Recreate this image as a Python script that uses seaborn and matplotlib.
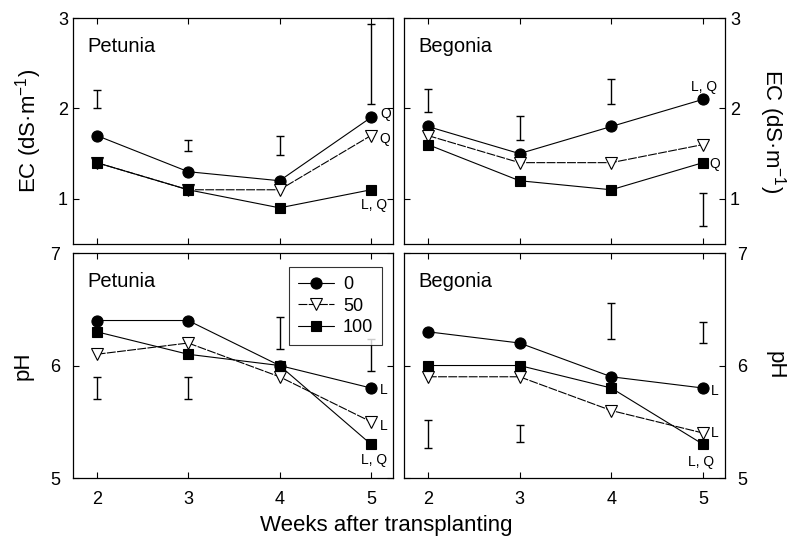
import numpy as np
import pandas as pd
import matplotlib
matplotlib.use("Agg")
import matplotlib.pyplot as plt
import seaborn as sns

sns.set_style("ticks")
plt.rcParams['font.family'] = ['Liberation Sans', 'DejaVu Sans']
plt.rcParams['mathtext.fontset'] = 'custom'
plt.rcParams['mathtext.rm'] = 'Liberation Sans'
plt.rcParams['mathtext.it'] = 'Liberation Sans:italic'
for k in ['text.color', 'axes.labelcolor', 'xtick.color', 'ytick.color', 'axes.edgecolor']:
    plt.rcParams[k] = 'black'

weeks = [2, 3, 4, 5]
rates = ['0', '50', '100']

# EC (dS/m) per rate
ec_petunia = {'0': [1.7, 1.3, 1.2, 1.9], '50': [1.4, 1.1, 1.1, 1.7], '100': [1.4, 1.1, 0.9, 1.1]}
ec_begonia = {'0': [1.8, 1.5, 1.8, 2.1], '50': [1.7, 1.4, 1.4, 1.6], '100': [1.6, 1.2, 1.1, 1.4]}
# pH per rate
ph_petunia = {'0': [6.4, 6.4, 6.0, 5.8], '50': [6.1, 6.2, 5.9, 5.5], '100': [6.3, 6.1, 6.0, 5.3]}
ph_begonia = {'0': [6.3, 6.2, 5.9, 5.8], '50': [5.9, 5.9, 5.6, 5.4], '100': [6.0, 6.0, 5.8, 5.3]}

# LSD bars: low / high ends
ec_petunia_bar_lo = [2.01, 1.53, 1.48, 2.05]
ec_petunia_bar_hi = [2.2, 1.65, 1.7, 2.93]
ec_begonia_bar_lo = [1.96, 1.65, 2.05, 0.7]
ec_begonia_bar_hi = [2.22, 1.92, 2.33, 1.06]
ph_petunia_bar_lo = [5.7, 5.7, 6.15, 5.95]
ph_petunia_bar_hi = [5.9, 5.9, 6.43, 6.24]
ph_begonia_bar_lo = [5.27, 5.32, 6.24, 6.2]
ph_begonia_bar_hi = [5.52, 5.47, 6.56, 6.39]

# significance notes (text, x, y)
notes_ec_petunia = [('Q', 5.16, 1.94), ('Q', 5.15, 1.66), ('L, Q', 5.03, 0.93)]
notes_ec_begonia = [('L, Q', 5.01, 2.24), ('Q', 5.13, 1.38)]
notes_ph_petunia = [('L', 5.14, 5.78), ('L', 5.14, 5.46), ('L, Q', 5.03, 5.16)]
notes_ph_begonia = [('L', 5.13, 5.77), ('L', 5.13, 5.40), ('L, Q', 4.98, 5.14)]

styles = {
    '0': dict(marker='o', markerfacecolor='black', markersize=8, linestyle='-'),
    '50': dict(marker='v', markerfacecolor='white', markersize=8, linestyle=(0, (8, 1.2))),
    '100': dict(marker='s', markerfacecolor='black', markersize=6.5, linestyle='-'),
}

fig = plt.figure(figsize=(7.94, 5.46), dpi=100)
axes = {
    'tl': fig.add_axes([0.0919, 0.5531, 0.4030, 0.4139]),
    'tr': fig.add_axes([0.5088, 0.5531, 0.4043, 0.4139]),
    'bl': fig.add_axes([0.0919, 0.1245, 0.4030, 0.4121]),
    'br': fig.add_axes([0.5088, 0.1245, 0.4043, 0.4121]),
}

panels = [
    ('tl', 'Petunia', ec_petunia, ec_petunia_bar_lo, ec_petunia_bar_hi, notes_ec_petunia),
    ('tr', 'Begonia', ec_begonia, ec_begonia_bar_lo, ec_begonia_bar_hi, notes_ec_begonia),
    ('bl', 'Petunia', ph_petunia, ph_petunia_bar_lo, ph_petunia_bar_hi, notes_ph_petunia),
    ('br', 'Begonia', ph_begonia, ph_begonia_bar_lo, ph_begonia_bar_hi, notes_ph_begonia),
]

for key, name, series, lo, hi, notes in panels:
    ax = axes[key]
    for r in rates:
        sns.lineplot(x=weeks, y=series[r], ax=ax, color='black', lw=0.8,
                     markeredgecolor='black', markeredgewidth=0.8, label=r, **styles[r])
    lo = np.array(lo)
    hi = np.array(hi)
    ax.errorbar(weeks, (lo + hi) / 2, yerr=(hi - lo) / 2, fmt='none', ecolor='black',
                elinewidth=1.0, capsize=3, capthick=1.0)
    for t, x, y in notes:
        ax.text(x, y, t, fontsize=10, ha='center', va='center')
    ax.text(0.044, 0.875, name, transform=ax.transAxes, fontsize=14.5, va='center', ha='left')
    ax.set_xlim(1.74, 5.24)
    ax.set_xticks(weeks)
    ax.set_xlabel('')
    for s in ax.spines.values():
        s.set_visible(True)
        s.set_linewidth(0.9)
    ax.tick_params(direction='in', top=True, right=True, left=True, bottom=True,
                   length=4, width=0.8, labelsize=13)
    if ax.get_legend() is not None:
        ax.get_legend().remove()

for key in ['tl', 'tr']:
    axes[key].set_ylim(0.5, 3)
    axes[key].set_yticks([1, 2, 3])
    axes[key].tick_params(labelbottom=False)
for key in ['bl', 'br']:
    axes[key].set_ylim(5, 7)
    axes[key].set_yticks([5, 6, 7])
    axes[key].tick_params(labelbottom=True, pad=9)

for key in ['tr', 'br']:
    ax = axes[key]
    ax.tick_params(labelleft=False, labelright=True)
    ax.yaxis.set_label_position('right')

ec_label = 'EC (dS·m$^{-1}$)'
axes['tl'].set_ylabel(ec_label, fontsize=16, labelpad=10)
axes['bl'].set_ylabel('pH', fontsize=16, labelpad=12)
axes['tr'].set_ylabel(ec_label, fontsize=16, rotation=270, va='bottom', labelpad=12)
axes['br'].set_ylabel('pH', fontsize=16, rotation=270, va='bottom', labelpad=12)

handles, labels = axes['bl'].get_legend_handles_labels()
leg = axes['bl'].legend(handles[:3], labels[:3], loc='upper right', bbox_to_anchor=(0.995, 0.978),
                        fontsize=13, frameon=True, fancybox=False, edgecolor='black',
                        handlelength=2.0, borderpad=0.5, labelspacing=0.25, handletextpad=0.5)
leg.get_frame().set_linewidth(0.8)

fig.text(0.486, 0.038, 'Weeks after transplanting', fontsize=16, ha='center', va='center')

fig.savefig('out.png', dpi=100)
